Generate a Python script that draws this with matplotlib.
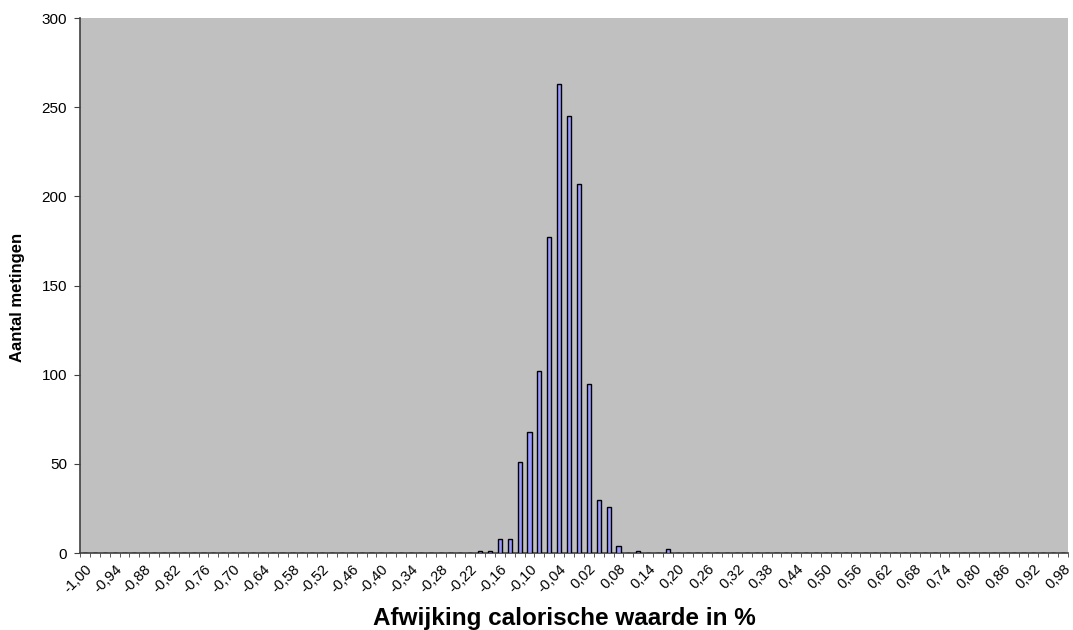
import numpy as np
import matplotlib
matplotlib.use("Agg")
import matplotlib.pyplot as plt
from matplotlib.ticker import FixedLocator, FixedFormatter

# Categories: deviation in % from -1.00 to 0.98 in steps of 0.02
categories = [round(-1.00 + 0.02 * i, 2) for i in range(100)]
# counts for non-zero categories
nonzero = {
    -0.20: 1, -0.18: 1, -0.16: 8, -0.14: 8, -0.12: 51, -0.10: 68,
    -0.08: 102, -0.06: 177, -0.04: 263, -0.02: 245, 0.00: 207,
    0.02: 95, 0.04: 30, 0.06: 26, 0.08: 4, 0.12: 1, 0.18: 2,
}
counts = [nonzero.get(c, 0) for c in categories]
tick_labels = [f"{c:.2f}".replace(".", ",").replace("-0,00", "0,00") for c in categories]
y_ticks = [0, 50, 100, 150, 200, 250, 300]

plt.rcParams['font.family'] = ['Liberation Sans', 'DejaVu Sans']

fig = plt.figure(figsize=(10.73, 6.3), dpi=100)
ax = fig.add_axes([0.0746, 0.1222, 0.9207, 0.8492])
ax.set_facecolor('#C0C0C0')

x = np.arange(len(categories))
ax.bar(x, counts, width=0.42, color='#9999FF', edgecolor='black', linewidth=1.0, zorder=3)

ax.set_xlim(-0.5, len(categories) - 0.5)
ax.set_ylim(0, 300)
ax.set_yticks(y_ticks)
ax.tick_params(axis='y', labelsize=11, length=4.3, direction='out', color='#404040', pad=5)

# major: labels every 3rd category (no tick mark); minor: boundaries
label_idx = list(range(0, len(categories), 3))
ax.xaxis.set_major_locator(FixedLocator(label_idx))
ax.xaxis.set_major_formatter(FixedFormatter([tick_labels[i] for i in label_idx]))
ax.xaxis.set_minor_locator(FixedLocator(np.arange(-0.5, len(categories) + 0.5, 1)))
ax.tick_params(axis='x', which='major', length=0, labelsize=10.5, pad=6.5)
ax.tick_params(axis='x', which='minor', length=3, direction='out', color='#404040')
for lab in ax.get_xticklabels():
    lab.set_rotation(45)
    lab.set_ha('right')
    lab.set_va('top')
    lab.set_rotation_mode('anchor')

for s in ['top', 'right']:
    ax.spines[s].set_visible(False)
for s in ['left', 'bottom']:
    ax.spines[s].set_color('#404040')
    ax.spines[s].set_linewidth(1.2)

fig.text(18 / 1073, (630 - 297) / 630, 'Aantal metingen', rotation=90,
         ha='center', va='center', fontsize=12, fontweight='bold')
fig.text(564 / 1073, (630 - 625) / 630, 'Afwijking calorische waarde in %',
         ha='center', va='baseline', fontsize=17.5, fontweight='bold')

fig.savefig('out.png', dpi=100, facecolor='white')
